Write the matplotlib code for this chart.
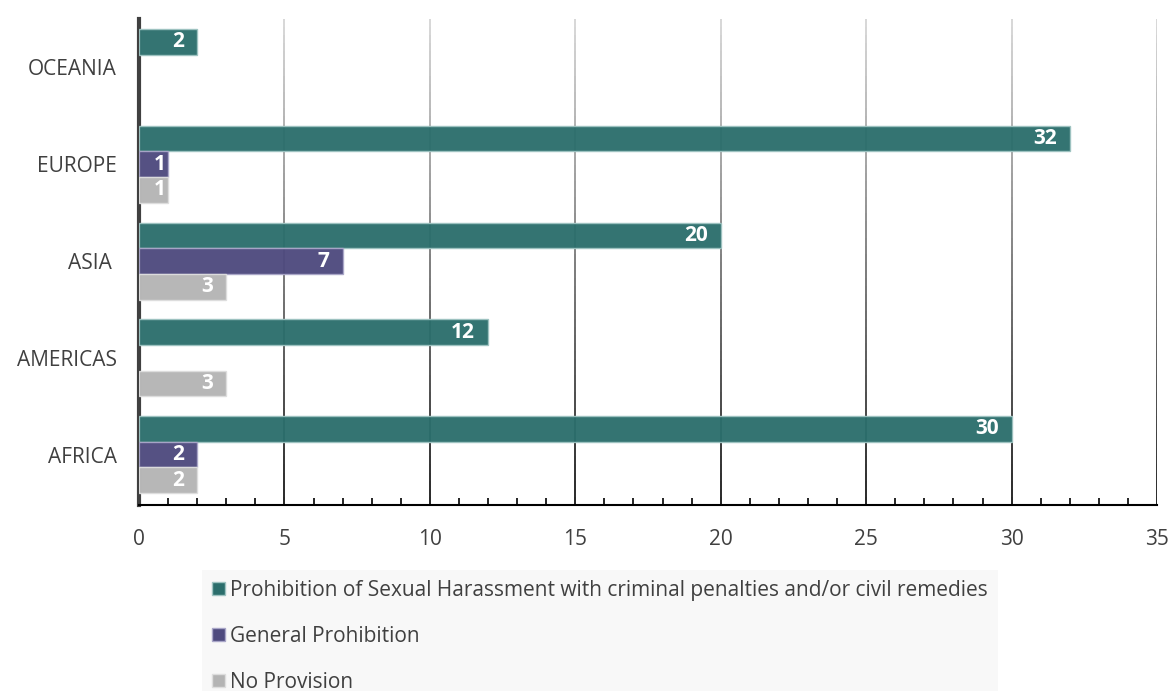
import numpy as np
import matplotlib.pyplot as plt
from matplotlib.collections import LineCollection
from matplotlib.patches import Patch

regions = ['AFRICA', 'AMERICAS', 'ASIA ', 'EUROPE', 'OCEANIA']
criminal = [30, 12, 20, 32, 2]
general = [2, 0, 7, 1, 0]
no_prov = [2, 3, 3, 1, 0]
series_names = ['Prohibition of Sexual Harassment with criminal penalties and/or civil remedies',
                'General Prohibition', 'No Provision']
colors = ['#2b6e6c', '#4e4a7e', '#b4b4b4']
edges = ['#9ec3c1', '#a9a6c8', '#dedede']

plt.rcParams['font.family'] = ['Open Sans', 'DejaVu Sans']
fig = plt.figure(figsize=(11.73, 6.91), dpi=100)
ax = fig.add_axes([0.1185, 0.2692, 0.8679, 0.7033])

y = np.arange(len(regions))
h = 0.265
offs = [h, 0, -h]
for vals, off, c, ec in zip([criminal, general, no_prov], offs, colors, edges):
    for yi, v in zip(y, vals):
        if v == 0:
            continue
        ax.barh(yi + off, v, height=h, color=c, edgecolor=ec, linewidth=1, alpha=0.96, zorder=3)
        # short bars: label pushed to the end so it stays inside
        dx = -1.5 if v < 2 else -9.5
        ax.annotate(str(v), (v, yi + off), xytext=(dx, 0), textcoords='offset points',
                    ha='right', va='center', color='white', fontweight='bold', fontsize=15, zorder=4)

ax.set_xlim(0, 35)
ax.set_ylim(-0.52, 4.5)

# gradient gridlines (light at top, dark at bottom)
n = 60
ys = np.linspace(-0.52, 4.5, n + 1)
for gx in range(5, 36, 5):
    segs = [[(gx, ys[i]), (gx, ys[i + 1])] for i in range(n)]
    t = np.linspace(0, 1, n)
    g = 0.82 * t
    cols = [(gi, gi, gi, 1) for gi in g]
    ax.add_collection(LineCollection(segs, colors=cols, linewidths=1.2, zorder=1))

ax.set_yticks(y)
ax.set_yticklabels(regions, fontsize=15, color='#404040')
ax.tick_params(axis='y', length=0, pad=16)
ax.set_xticks(range(0, 36, 5))
ax.set_xticklabels([str(v) for v in range(0, 36, 5)], fontsize=15, color='#404040')
ax.set_xticks(range(0, 36), minor=True)
ax.tick_params(axis='x', which='both', direction='in', length=5, width=1.2, color='black', pad=17)
ax.tick_params(axis='x', which='major', length=0)

for s in ['top', 'right']:
    ax.spines[s].set_visible(False)
ax.spines['left'].set_linewidth(3)
ax.spines['left'].set_color('#404040')
ax.spines['bottom'].set_linewidth(1.5)
ax.spines['bottom'].set_color('black')

handles = [Patch(facecolor=c, edgecolor=ec) for c, ec in zip(colors, edges)]
leg = fig.legend(handles, series_names, loc='lower left', bbox_to_anchor=(0.172, -0.018),
                 frameon=True, facecolor='#f7f7f7', edgecolor='none', fancybox=False,
                 fontsize=15, labelcolor='#404040', handlelength=0.6, handleheight=0.6,
                 handletextpad=0.25, labelspacing=1.2, borderpad=0.5, borderaxespad=0)

fig.savefig('out.png', dpi=100)
